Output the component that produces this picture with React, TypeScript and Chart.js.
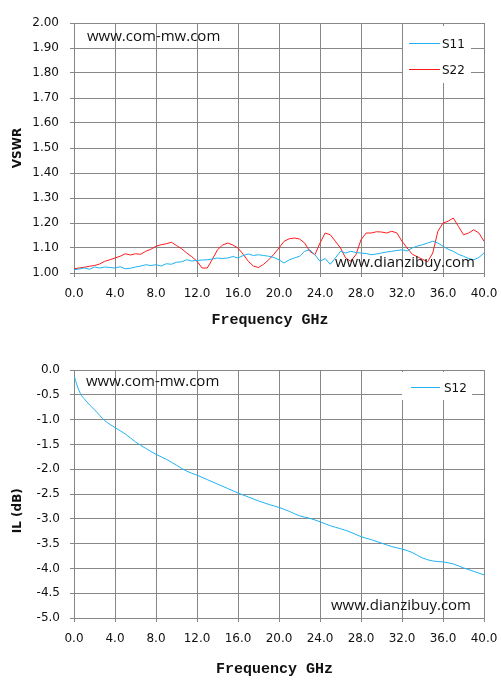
import React, { useEffect, useRef } from "react";
import { Chart, registerables } from "chart.js";

Chart.register(...registerables);

// ---------- data ----------
const FREQ_GHZ = [
  0, 0.5, 1, 1.5, 2, 2.5, 3, 3.5, 4, 4.5, 5, 5.5, 6, 6.5, 7, 7.5, 8, 8.5, 9, 9.5,
  10, 10.5, 11, 11.5, 12, 12.5, 13, 13.5, 14, 14.5, 15, 15.5, 16, 16.5, 17, 17.5, 18, 18.5, 19, 19.5,
  20, 20.5, 21, 21.5, 22, 22.5, 23, 23.5, 24, 24.5, 25, 25.5, 26, 26.5, 27, 27.5, 28, 28.5, 29, 29.5,
  30, 30.5, 31, 31.5, 32, 32.5, 33, 33.5, 34, 34.5, 35, 35.5, 36, 36.5, 37, 37.5, 38, 38.5, 39, 39.5, 40,
];

const S11_VSWR = [
  1.013, 1.016, 1.020, 1.015, 1.024, 1.020, 1.024, 1.022, 1.020, 1.025, 1.017, 1.019, 1.024, 1.028, 1.033, 1.030, 1.033, 1.028, 1.037, 1.035,
  1.043, 1.045, 1.053, 1.048, 1.050, 1.052, 1.053, 1.056, 1.060, 1.058, 1.060, 1.066, 1.060, 1.070, 1.076, 1.070, 1.073, 1.070, 1.067, 1.062,
  1.053, 1.040, 1.053, 1.060, 1.067, 1.087, 1.093, 1.073, 1.047, 1.058, 1.035, 1.060, 1.087, 1.080, 1.087, 1.082, 1.080, 1.078, 1.073, 1.076,
  1.080, 1.084, 1.087, 1.090, 1.093, 1.088, 1.100, 1.108, 1.113, 1.120, 1.127, 1.120, 1.107, 1.095, 1.087, 1.075, 1.067, 1.058, 1.053, 1.062, 1.080,
];

const S22_VSWR = [
  1.017, 1.020, 1.023, 1.027, 1.030, 1.036, 1.047, 1.053, 1.060, 1.067, 1.077, 1.072, 1.077, 1.075, 1.087, 1.095, 1.107, 1.113, 1.117, 1.123,
  1.110, 1.097, 1.080, 1.065, 1.047, 1.020, 1.020, 1.055, 1.093, 1.112, 1.120, 1.112, 1.100, 1.075, 1.047, 1.028, 1.022, 1.035, 1.053, 1.075,
  1.100, 1.127, 1.137, 1.140, 1.136, 1.120, 1.087, 1.073, 1.120, 1.160, 1.153, 1.127, 1.100, 1.060, 1.047, 1.073, 1.133, 1.160, 1.160, 1.165,
  1.164, 1.160, 1.167, 1.160, 1.127, 1.100, 1.075, 1.065, 1.055, 1.045, 1.080, 1.167, 1.200, 1.207, 1.220, 1.187, 1.153, 1.160, 1.173, 1.160, 1.127,
];

const IL_FREQ_GHZ = [
  0.05, 0.25, 0.5, 0.75, 1, 1.5, 2, 3, 4, 5, 6, 7, 8, 9, 10, 11, 12, 13, 14, 15, 16, 17, 18, 19, 20,
  21, 22, 23, 24, 25, 26, 27, 28, 29, 30, 31, 32, 33, 34, 35, 36, 37, 38, 39, 40,
];

const S12_IL_DB = [
  -0.14, -0.28, -0.42, -0.52, -0.58, -0.7, -0.8, -1.02, -1.16, -1.29, -1.45, -1.58, -1.7, -1.8, -1.92, -2.04, -2.12, -2.21, -2.3, -2.39, -2.48, -2.56, -2.64, -2.71, -2.77,
  -2.85, -2.94, -2.99, -3.06, -3.14, -3.2, -3.27, -3.36, -3.42, -3.49, -3.56, -3.61, -3.68, -3.79, -3.85, -3.87, -3.91, -3.99, -4.06, -4.13,
];

const X_TITLE = "Frequency GHz";
const VSWR_TITLE = "VSWR";
const IL_TITLE = "IL (dB)";
const WATERMARK_TOP = "www.com-mw.com";
const WATERMARK_BOTTOM = "www.dianzibuy.com";

// ---------- styles ----------
const GRID = "#878787";
const BLUE = "#1EB2F0";
const RED = "#FF1A1A";
const TICK_FONT = { family: "'DejaVu Sans', sans-serif", size: 12 };

type OverlayCfg = {
  box: [number, number, number, number];
  lineX1: number;
  lineX2: number;
  textX: number;
  firstY: number;
  rowGap: number;
  wm1: [number, number];
  wm2: [number, number];
};

function makeOverlay(cfg: OverlayCfg) {
  return {
    id: "overlay",
    beforeDatasetsDraw(chart: any) {
      const { ctx, chartArea: a } = chart;
      ctx.save();
      ctx.fillStyle = "#ffffff";
      ctx.fillRect(a.right + cfg.box[0], a.top + cfg.box[1], cfg.box[2], cfg.box[3]);
      chart.data.datasets.forEach((ds: any, i: number) => {
        const y = Math.round(a.top + cfg.firstY + i * cfg.rowGap) + 0.5;
        ctx.strokeStyle = ds.borderColor;
        ctx.lineWidth = 1;
        ctx.beginPath();
        ctx.moveTo(a.right + cfg.lineX1, y);
        ctx.lineTo(a.right + cfg.lineX2, y);
        ctx.stroke();
        ctx.fillStyle = "#111";
        ctx.font = "12px 'DejaVu Sans', sans-serif";
        ctx.textBaseline = "alphabetic";
        ctx.textAlign = "left";
        ctx.fillText(ds.label, a.right + cfg.textX, y + 4);
      });
      ctx.restore();
    },
    afterDatasetsDraw(chart: any) {
      const { ctx, chartArea: a } = chart;
      ctx.save();
      ctx.fillStyle = "#111";
      ctx.font = "15px 'Open Sans', sans-serif";
      ctx.textBaseline = "alphabetic";
      ctx.textAlign = "left";
      ctx.fillText(WATERMARK_TOP, a.left + cfg.wm1[0], a.top + cfg.wm1[1]);
      ctx.textAlign = "right";
      ctx.fillText(WATERMARK_BOTTOM, a.right + cfg.wm2[0], a.bottom + cfg.wm2[1]);
      ctx.restore();
    },
  };
}

function scalesFor(opts: {
  yMin: number;
  yMax: number;
  yStep: number;
  yDigits: number;
  yTitle: string;
  yPad: number;
  xTitle: string;
  xTitleBottom: number;
  xAxisHeight: number;
}) {
  const grid = {
    color: GRID,
    lineWidth: 1,
    tickColor: GRID,
    tickLength: 4,
    drawTicks: true,
  };
  return {
    x: {
      type: "linear",
      min: 0,
      max: 40,
      grid,
      border: { color: GRID, width: 1 },
      ticks: {
        stepSize: 4,
        autoSkip: false,
        maxRotation: 0,
        padding: 10,
        color: "#111",
        font: TICK_FONT,
        callback: (v: number) => Number(v).toFixed(1),
      },
      title: {
        display: true,
        text: opts.xTitle,
        color: "#111",
        font: { family: "'Liberation Mono', monospace", size: 15, weight: "bold" },
        padding: { top: 0, bottom: opts.xTitleBottom },
      },
      afterFit: (s: any) => {
        s.height = opts.xAxisHeight;
        s.paddingLeft = 0;
        s.paddingRight = 0;
      },
    },
    y: {
      type: "linear",
      min: opts.yMin,
      max: opts.yMax,
      grid,
      border: { color: GRID, width: 1 },
      ticks: {
        stepSize: opts.yStep,
        autoSkip: false,
        padding: opts.yPad,
        color: "#111",
        font: TICK_FONT,
        callback: (v: number) => Number(v).toFixed(opts.yDigits),
      },
      title: {
        display: true,
        text: opts.yTitle,
        color: "#111",
        font: { family: "'DejaVu Sans', sans-serif", size: 12, weight: "bold" },
        padding: { top: 11, bottom: 0 },
      },
      afterFit: (s: any) => {
        s.width = 74;
        s.paddingTop = 0;
        s.paddingBottom = 0;
      },
    },
  };
}

function VswrChart() {
  const ref = useRef<HTMLCanvasElement>(null);
  useEffect(() => {
    if (!ref.current) return;
    const chart = new Chart(ref.current, {
      type: "line",
      data: {
        datasets: [
          {
            label: "S11",
            data: FREQ_GHZ.map((f, i) => ({ x: f, y: S11_VSWR[i] })),
            borderColor: BLUE,
            borderWidth: 1,
            pointRadius: 0,
            tension: 0,
          },
          {
            label: "S22",
            data: FREQ_GHZ.map((f, i) => ({ x: f, y: S22_VSWR[i] })),
            borderColor: RED,
            borderWidth: 1,
            pointRadius: 0,
            tension: 0,
          },
        ],
      },
      options: {
        responsive: false,
        animation: false,
        devicePixelRatio: 1,
        layout: { padding: { top: 23, right: 17, bottom: 0, left: 0 } },
        plugins: { legend: { display: false }, tooltip: { enabled: false } },
        scales: scalesFor({
          yMin: 1,
          yMax: 2,
          yStep: 0.1,
          yDigits: 2,
          yTitle: VSWR_TITLE,
          yPad: 11,
          xTitle: X_TITLE + "  ",
          xTitleBottom: 16,
          xAxisHeight: 72,
        }) as any,
      },
      plugins: [
        makeOverlay({
          box: [-81, 3, 68, 57],
          lineX1: -75,
          lineX2: -44,
          textX: -42,
          firstY: 20,
          rowGap: 26,
          wm1: [13, 18],
          wm2: [-9, -6],
        }),
      ],
    } as any);
    return () => chart.destroy();
  }, []);
  return <canvas ref={ref} width={501} height={345} style={{ display: "block", width: 501, height: 345 }} />;
}

function IlChart() {
  const ref = useRef<HTMLCanvasElement>(null);
  useEffect(() => {
    if (!ref.current) return;
    const chart = new Chart(ref.current, {
      type: "line",
      data: {
        datasets: [
          {
            label: "S12",
            data: IL_FREQ_GHZ.map((f, i) => ({ x: f, y: S12_IL_DB[i] })),
            borderColor: BLUE,
            borderWidth: 1,
            pointRadius: 0,
            cubicInterpolationMode: "monotone",
          },
        ],
      },
      options: {
        responsive: false,
        animation: false,
        devicePixelRatio: 1,
        layout: { padding: { top: 25, right: 17, bottom: 0, left: 0 } },
        plugins: { legend: { display: false }, tooltip: { enabled: false } },
        scales: scalesFor({
          yMin: -5,
          yMax: 0,
          yStep: 0.5,
          yDigits: 1,
          yTitle: IL_TITLE + "        ",
          yPad: 10,
          xTitle: X_TITLE + " ",
          xTitleBottom: 15,
          xAxisHeight: 75,
        }) as any,
      },
      plugins: [
        makeOverlay({
          box: [-82, 2, 70, 28],
          lineX1: -73,
          lineX2: -44,
          textX: -40,
          firstY: 17,
          rowGap: 26,
          wm1: [12, 16],
          wm2: [-13, -8],
        }),
      ],
    } as any);
    return () => chart.destroy();
  }, []);
  return <canvas ref={ref} width={501} height={348} style={{ display: "block", width: 501, height: 348 }} />;
}

export default function App() {
  return (
    <div style={{ position: "fixed", left: 0, top: 0, width: 501, height: 693, background: "#fff" }}>
      <VswrChart />
      <IlChart />
    </div>
  );
}
